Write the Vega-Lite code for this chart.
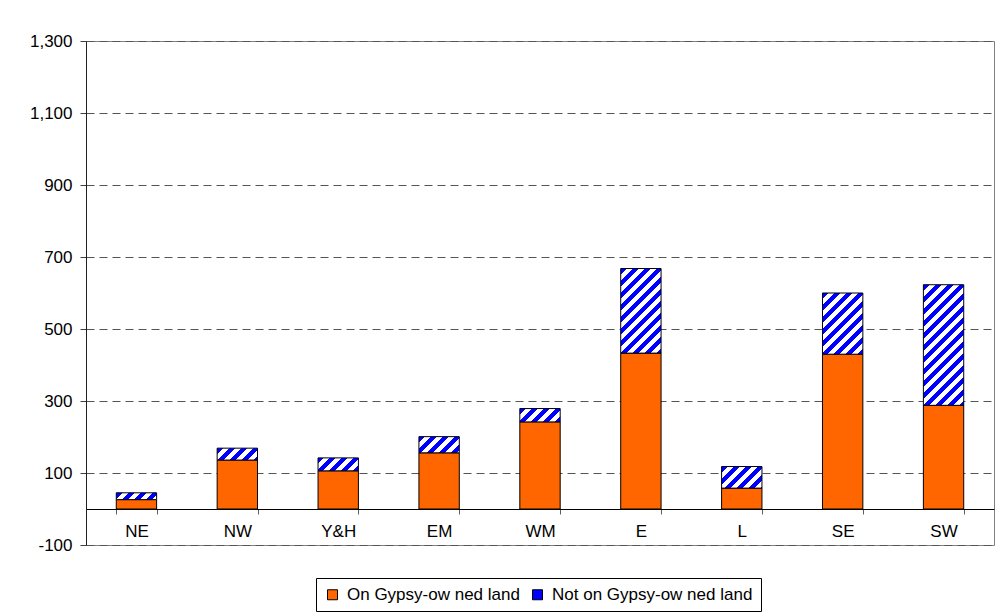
{
  "$schema": "https://vega.github.io/schema/vega-lite/v6.json",
  "width": 908,
  "height": 504,
  "autosize": {"type": "none"},
  "padding": {"left": 86, "top": 41, "right": 6, "bottom": 71},
  "background": "white",
  "config": {
    "view": {"stroke": "#808080", "strokeWidth": 1},
    "font": "Liberation Sans"
  },
  "data": {
    "values": [
      {"region": "NE", "on": 26, "total": 45},
      {"region": "NW", "on": 136, "total": 169},
      {"region": "Y&H", "on": 106, "total": 142},
      {"region": "EM", "on": 156, "total": 201},
      {"region": "WM", "on": 242, "total": 279},
      {"region": "E", "on": 433, "total": 668},
      {"region": "L", "on": 58, "total": 118},
      {"region": "SE", "on": 430, "total": 600},
      {"region": "SW", "on": 288, "total": 623}
    ]
  },
  "encoding": {
    "x": {
      "field": "region", "type": "nominal", "sort": null,
      "scale": {"paddingInner": 0.6, "paddingOuter": 0.3},
      "axis": {
        "title": null, "offset": -36, "tickBand": "extent", "tickSize": 5,
        "tickColor": "#606060", "domainColor": "black", "domainWidth": 1,
        "labelPadding": 9, "labelAngle": 0, "labelFontSize": 17,
        "labelFont": "Liberation Sans", "labelColor": "black", "grid": false
      }
    },
    "y": {
      "field": "on", "type": "quantitative",
      "scale": {"domain": [-100, 1300], "nice": false, "zero": false},
      "axis": {
        "title": null, "values": [-100, 100, 300, 500, 700, 900, 1100, 1300],
        "labelExpr": "datum.value < 0 ? '-' + format(-datum.value, ',d') : format(datum.value, ',d')",
        "grid": true, "gridDash": [8, 5], "gridColor": "#555555",
        "gridWidth": 1, "tickSize": 6, "tickColor": "#404040",
        "domainColor": "#202020", "labelPadding": 8, "labelFontSize": 17,
        "labelFont": "Liberation Sans", "labelColor": "black"
      }
    }
  },
  "layer": [
    {
      "mark": {"type": "bar", "stroke": "black", "strokeWidth": 1},
      "encoding": {
        "fill": {
          "datum": "On Gypsy-ow ned land", "type": "nominal",
          "scale": {
            "domain": ["On Gypsy-ow ned land", "Not on Gypsy-ow ned land"],
            "range": ["#FF6600", "#0000FF"]
          },
          "legend": {
            "orient": "none", "legendX": 230, "legendY": 537, "direction": "horizontal",
            "title": null, "symbolType": "square", "symbolSize": 100,
            "symbolStrokeColor": "black", "symbolStrokeWidth": 1,
            "labelFont": "Liberation Sans", "labelFontSize": 17, "labelColor": "black",
            "labelOffset": 6, "columnPadding": 9, "padding": 8,
            "strokeColor": "black", "fillColor": "white", "labelLimit": 300,
            "encode": {"symbols": {"update": {
              "stroke": {"value": "black"},
              "strokeWidth": {"value": 1}}}}
          }
        }
      }
    },
    {
      "mark": {"type": "bar", "stroke": "black", "strokeWidth": 1},
      "encoding": {
        "y2": {"field": "total"},
        "fill": {
          "datum": "Not on Gypsy-ow ned land", "type": "nominal",
          "condition": [
            {"test": "datum.region === 'NE'", "value": {"gradient": "linear", "x1": 0, "y1": 0, "x2": 1.1368, "y2": 0.1927, "stops": [
              {"offset": 0, "color": "#00f"}, {"offset": 0.1271, "color": "#00f"}, {"offset": 0.1271, "color": "#fff"}, {"offset": 0.2542, "color": "#fff"},
              {"offset": 0.2542, "color": "#00f"}, {"offset": 0.3814, "color": "#00f"}, {"offset": 0.3814, "color": "#fff"}, {"offset": 0.5085, "color": "#fff"},
              {"offset": 0.5085, "color": "#00f"}, {"offset": 0.6356, "color": "#00f"}, {"offset": 0.6356, "color": "#fff"}, {"offset": 0.7627, "color": "#fff"},
              {"offset": 0.7627, "color": "#00f"}, {"offset": 0.8898, "color": "#00f"}, {"offset": 0.8898, "color": "#fff"}, {"offset": 1, "color": "#fff"}]}},
            {"test": "datum.region === 'NW'", "value": {"gradient": "linear", "x1": 0, "y1": 0, "x2": 1.1912, "y2": 0.3506, "stops": [
              {"offset": 0, "color": "#00f"}, {"offset": 0.1149, "color": "#00f"}, {"offset": 0.1149, "color": "#fff"}, {"offset": 0.2297, "color": "#fff"},
              {"offset": 0.2297, "color": "#00f"}, {"offset": 0.3446, "color": "#00f"}, {"offset": 0.3446, "color": "#fff"}, {"offset": 0.4594, "color": "#fff"},
              {"offset": 0.4594, "color": "#00f"}, {"offset": 0.5743, "color": "#00f"}, {"offset": 0.5743, "color": "#fff"}, {"offset": 0.6891, "color": "#fff"},
              {"offset": 0.6891, "color": "#00f"}, {"offset": 0.804, "color": "#00f"}, {"offset": 0.804, "color": "#fff"}, {"offset": 0.9188, "color": "#fff"},
              {"offset": 0.9188, "color": "#00f"}, {"offset": 1, "color": "#00f"}]}},
            {"test": "datum.region === 'Y&H'", "value": {"gradient": "linear", "x1": 0, "y1": 0, "x2": 1.1976, "y2": 0.3846, "stops": [
              {"offset": 0, "color": "#00f"}, {"offset": 0.1125, "color": "#00f"}, {"offset": 0.1125, "color": "#fff"}, {"offset": 0.2251, "color": "#fff"},
              {"offset": 0.2251, "color": "#00f"}, {"offset": 0.3376, "color": "#00f"}, {"offset": 0.3376, "color": "#fff"}, {"offset": 0.4501, "color": "#fff"},
              {"offset": 0.4501, "color": "#00f"}, {"offset": 0.5626, "color": "#00f"}, {"offset": 0.5626, "color": "#fff"}, {"offset": 0.6752, "color": "#fff"},
              {"offset": 0.6752, "color": "#00f"}, {"offset": 0.7877, "color": "#00f"}, {"offset": 0.7877, "color": "#fff"}, {"offset": 0.9002, "color": "#fff"},
              {"offset": 0.9002, "color": "#00f"}, {"offset": 1, "color": "#00f"}]}},
            {"test": "datum.region === 'EM'", "value": {"gradient": "linear", "x1": 0, "y1": 0, "x2": 1.207, "y2": 0.4845, "stops": [
              {"offset": 0, "color": "#00f"}, {"offset": 0.1061, "color": "#00f"}, {"offset": 0.1061, "color": "#fff"}, {"offset": 0.2122, "color": "#fff"},
              {"offset": 0.2122, "color": "#00f"}, {"offset": 0.3182, "color": "#00f"}, {"offset": 0.3182, "color": "#fff"}, {"offset": 0.4243, "color": "#fff"},
              {"offset": 0.4243, "color": "#00f"}, {"offset": 0.5304, "color": "#00f"}, {"offset": 0.5304, "color": "#fff"}, {"offset": 0.6365, "color": "#fff"},
              {"offset": 0.6365, "color": "#00f"}, {"offset": 0.7426, "color": "#00f"}, {"offset": 0.7426, "color": "#fff"}, {"offset": 0.8487, "color": "#fff"},
              {"offset": 0.8487, "color": "#00f"}, {"offset": 0.9547, "color": "#00f"}, {"offset": 0.9547, "color": "#fff"}, {"offset": 1, "color": "#fff"}]}},
            {"test": "datum.region === 'WM'", "value": {"gradient": "linear", "x1": 0, "y1": 0, "x2": 1.1994, "y2": 0.3958, "stops": [
              {"offset": 0, "color": "#00f"}, {"offset": 0.1118, "color": "#00f"}, {"offset": 0.1118, "color": "#fff"}, {"offset": 0.2235, "color": "#fff"},
              {"offset": 0.2235, "color": "#00f"}, {"offset": 0.3353, "color": "#00f"}, {"offset": 0.3353, "color": "#fff"}, {"offset": 0.4471, "color": "#fff"},
              {"offset": 0.4471, "color": "#00f"}, {"offset": 0.5589, "color": "#00f"}, {"offset": 0.5589, "color": "#fff"}, {"offset": 0.6706, "color": "#fff"},
              {"offset": 0.6706, "color": "#00f"}, {"offset": 0.7824, "color": "#00f"}, {"offset": 0.7824, "color": "#fff"}, {"offset": 0.8942, "color": "#fff"},
              {"offset": 0.8942, "color": "#00f"}, {"offset": 1, "color": "#00f"}]}},
            {"test": "datum.region === 'E'", "value": {"gradient": "linear", "x1": 0, "y1": 0, "x2": 0.574, "y2": 1.2032, "stops": [
              {"offset": 0, "color": "#00f"}, {"offset": 0.048, "color": "#00f"}, {"offset": 0.048, "color": "#fff"}, {"offset": 0.096, "color": "#fff"},
              {"offset": 0.096, "color": "#00f"}, {"offset": 0.144, "color": "#00f"}, {"offset": 0.144, "color": "#fff"}, {"offset": 0.1921, "color": "#fff"},
              {"offset": 0.1921, "color": "#00f"}, {"offset": 0.2401, "color": "#00f"}, {"offset": 0.2401, "color": "#fff"}, {"offset": 0.2881, "color": "#fff"},
              {"offset": 0.2881, "color": "#00f"}, {"offset": 0.3361, "color": "#00f"}, {"offset": 0.3361, "color": "#fff"}, {"offset": 0.3841, "color": "#fff"},
              {"offset": 0.3841, "color": "#00f"}, {"offset": 0.4321, "color": "#00f"}, {"offset": 0.4321, "color": "#fff"}, {"offset": 0.4802, "color": "#fff"},
              {"offset": 0.4802, "color": "#00f"}, {"offset": 0.5282, "color": "#00f"}, {"offset": 0.5282, "color": "#fff"}, {"offset": 0.5762, "color": "#fff"},
              {"offset": 0.5762, "color": "#00f"}, {"offset": 0.6242, "color": "#00f"}, {"offset": 0.6242, "color": "#fff"}, {"offset": 0.6722, "color": "#fff"},
              {"offset": 0.6722, "color": "#00f"}, {"offset": 0.7202, "color": "#00f"}, {"offset": 0.7202, "color": "#fff"}, {"offset": 0.7682, "color": "#fff"},
              {"offset": 0.7682, "color": "#00f"}, {"offset": 0.8163, "color": "#00f"}, {"offset": 0.8163, "color": "#fff"}, {"offset": 0.8643, "color": "#fff"},
              {"offset": 0.8643, "color": "#00f"}, {"offset": 0.9123, "color": "#00f"}, {"offset": 0.9123, "color": "#fff"}, {"offset": 0.9603, "color": "#fff"},
              {"offset": 0.9603, "color": "#00f"}, {"offset": 1, "color": "#00f"}]}},
            {"test": "datum.region === 'L'", "value": {"gradient": "linear", "x1": 0, "y1": 0, "x2": 1.1934, "y2": 0.6387, "stops": [
              {"offset": 0, "color": "#00f"}, {"offset": 0.0968, "color": "#00f"}, {"offset": 0.0968, "color": "#fff"}, {"offset": 0.1937, "color": "#fff"},
              {"offset": 0.1937, "color": "#00f"}, {"offset": 0.2905, "color": "#00f"}, {"offset": 0.2905, "color": "#fff"}, {"offset": 0.3873, "color": "#fff"},
              {"offset": 0.3873, "color": "#00f"}, {"offset": 0.4842, "color": "#00f"}, {"offset": 0.4842, "color": "#fff"}, {"offset": 0.581, "color": "#fff"},
              {"offset": 0.581, "color": "#00f"}, {"offset": 0.6779, "color": "#00f"}, {"offset": 0.6779, "color": "#fff"}, {"offset": 0.7747, "color": "#fff"},
              {"offset": 0.7747, "color": "#00f"}, {"offset": 0.8715, "color": "#00f"}, {"offset": 0.8715, "color": "#fff"}, {"offset": 0.9684, "color": "#fff"},
              {"offset": 0.9684, "color": "#00f"}, {"offset": 1, "color": "#00f"}]}},
            {"test": "datum.region === 'SE'", "value": {"gradient": "linear", "x1": 0, "y1": 0, "x2": 0.7627, "y2": 1.1565, "stops": [
              {"offset": 0, "color": "#00f"}, {"offset": 0.0591, "color": "#00f"}, {"offset": 0.0591, "color": "#fff"}, {"offset": 0.1182, "color": "#fff"},
              {"offset": 0.1182, "color": "#00f"}, {"offset": 0.1772, "color": "#00f"}, {"offset": 0.1772, "color": "#fff"}, {"offset": 0.2363, "color": "#fff"},
              {"offset": 0.2363, "color": "#00f"}, {"offset": 0.2954, "color": "#00f"}, {"offset": 0.2954, "color": "#fff"}, {"offset": 0.3545, "color": "#fff"},
              {"offset": 0.3545, "color": "#00f"}, {"offset": 0.4136, "color": "#00f"}, {"offset": 0.4136, "color": "#fff"}, {"offset": 0.4726, "color": "#fff"},
              {"offset": 0.4726, "color": "#00f"}, {"offset": 0.5317, "color": "#00f"}, {"offset": 0.5317, "color": "#fff"}, {"offset": 0.5908, "color": "#fff"},
              {"offset": 0.5908, "color": "#00f"}, {"offset": 0.6499, "color": "#00f"}, {"offset": 0.6499, "color": "#fff"}, {"offset": 0.7089, "color": "#fff"},
              {"offset": 0.7089, "color": "#00f"}, {"offset": 0.768, "color": "#00f"}, {"offset": 0.768, "color": "#fff"}, {"offset": 0.8271, "color": "#fff"},
              {"offset": 0.8271, "color": "#00f"}, {"offset": 0.8862, "color": "#00f"}, {"offset": 0.8862, "color": "#fff"}, {"offset": 0.9453, "color": "#fff"},
              {"offset": 0.9453, "color": "#00f"}, {"offset": 1, "color": "#00f"}]}},
            {"test": "datum.region === 'SW'", "value": {"gradient": "linear", "x1": 0, "y1": 0, "x2": 0.4017, "y2": 1.2002, "stops": [
              {"offset": 0, "color": "#00f"}, {"offset": 0.0373, "color": "#00f"}, {"offset": 0.0373, "color": "#fff"}, {"offset": 0.0746, "color": "#fff"},
              {"offset": 0.0746, "color": "#00f"}, {"offset": 0.1118, "color": "#00f"}, {"offset": 0.1118, "color": "#fff"}, {"offset": 0.1491, "color": "#fff"},
              {"offset": 0.1491, "color": "#00f"}, {"offset": 0.1864, "color": "#00f"}, {"offset": 0.1864, "color": "#fff"}, {"offset": 0.2237, "color": "#fff"},
              {"offset": 0.2237, "color": "#00f"}, {"offset": 0.2609, "color": "#00f"}, {"offset": 0.2609, "color": "#fff"}, {"offset": 0.2982, "color": "#fff"},
              {"offset": 0.2982, "color": "#00f"}, {"offset": 0.3355, "color": "#00f"}, {"offset": 0.3355, "color": "#fff"}, {"offset": 0.3728, "color": "#fff"},
              {"offset": 0.3728, "color": "#00f"}, {"offset": 0.41, "color": "#00f"}, {"offset": 0.41, "color": "#fff"}, {"offset": 0.4473, "color": "#fff"},
              {"offset": 0.4473, "color": "#00f"}, {"offset": 0.4846, "color": "#00f"}, {"offset": 0.4846, "color": "#fff"}, {"offset": 0.5219, "color": "#fff"},
              {"offset": 0.5219, "color": "#00f"}, {"offset": 0.5591, "color": "#00f"}, {"offset": 0.5591, "color": "#fff"}, {"offset": 0.5964, "color": "#fff"},
              {"offset": 0.5964, "color": "#00f"}, {"offset": 0.6337, "color": "#00f"}, {"offset": 0.6337, "color": "#fff"}, {"offset": 0.671, "color": "#fff"},
              {"offset": 0.671, "color": "#00f"}, {"offset": 0.7082, "color": "#00f"}, {"offset": 0.7082, "color": "#fff"}, {"offset": 0.7455, "color": "#fff"},
              {"offset": 0.7455, "color": "#00f"}, {"offset": 0.7828, "color": "#00f"}, {"offset": 0.7828, "color": "#fff"}, {"offset": 0.8201, "color": "#fff"},
              {"offset": 0.8201, "color": "#00f"}, {"offset": 0.8573, "color": "#00f"}, {"offset": 0.8573, "color": "#fff"}, {"offset": 0.8946, "color": "#fff"},
              {"offset": 0.8946, "color": "#00f"}, {"offset": 0.9319, "color": "#00f"}, {"offset": 0.9319, "color": "#fff"}, {"offset": 0.9692, "color": "#fff"},
              {"offset": 0.9692, "color": "#00f"}, {"offset": 1, "color": "#00f"}]}}
          ]
        }
      }
    }
  ]
}
